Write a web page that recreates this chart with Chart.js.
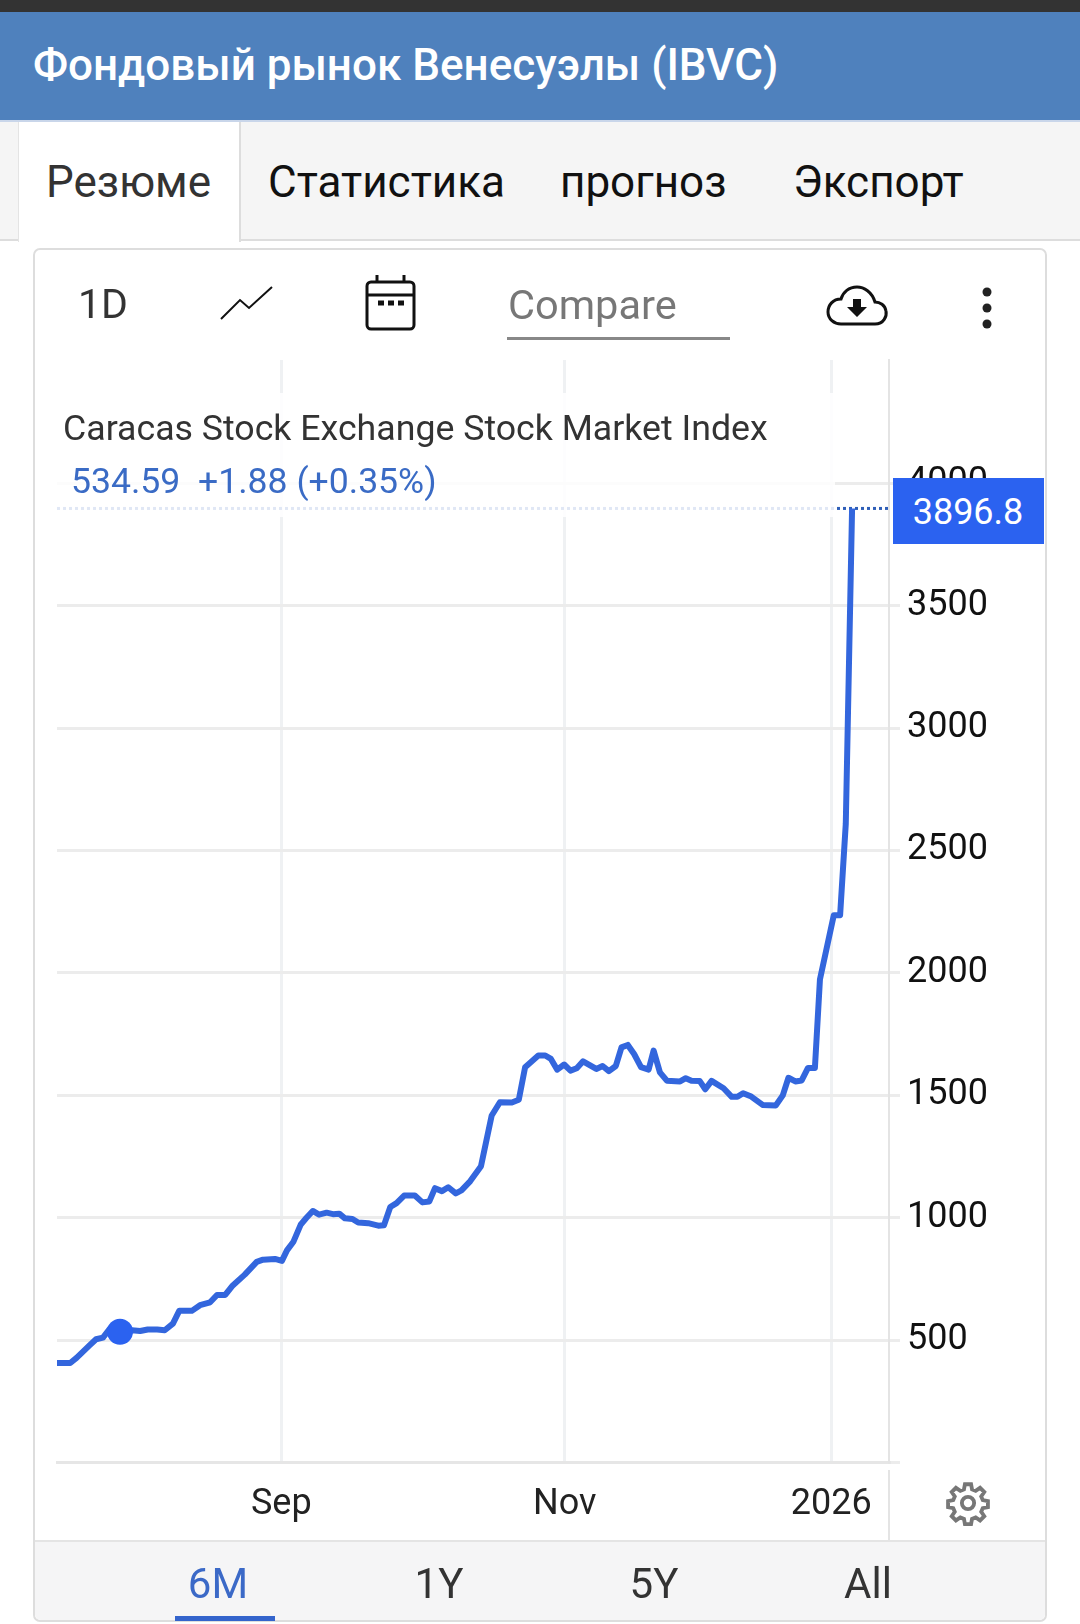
<!DOCTYPE html>
<html lang="ru">
<head>
<meta charset="utf-8">
<title>Фондовый рынок Венесуэлы (IBVC)</title>
<script src="https://cdn.jsdelivr.net/npm/chart.js@4/dist/chart.umd.min.js"></script>
<style>
  html, body { margin: 0; padding: 0; background: #fff; }
  #page { position: relative; width: 1080px; height: 1624px; overflow: hidden; font-family: Roboto, sans-serif; color: #222; }
  #page div, #page span, #page svg { position: absolute; }
  #page span { white-space: nowrap; line-height: 1; }
  canvas { position: absolute; left: 0; top: 0; }
  .tab { font-size: 44px; transform: translateY(-50%); top: 182px; color: #111; }
  .range { font-size: 42px; top: 1584px; transform: translate(-50%, -50%); color: #333; }
</style>
</head>
<body>
<div id="page">
  <div style="left:0;top:0;width:1080px;height:12px;background:#333"></div>
  <div style="left:0;top:12px;width:1080px;height:108px;background:#4f81bd"></div>
  <div style="left:0;top:120px;width:1080px;height:2px;background:#c9d6ea"></div>
  <span style="left:33px;top:65px;transform:translateY(-50%);font-size:44px;font-weight:500;color:#fff">Фондовый рынок Венесуэлы (IBVC)</span>

  <div style="left:0;top:122px;width:1080px;height:117px;background:#f5f5f5"></div>
  <div style="left:0;top:239px;width:1080px;height:2px;background:#ddd"></div>
  <div style="left:18px;top:122px;width:223px;height:120px;background:#fff;border-left:1px solid #e4e4e4;border-right:2px solid #ddd;box-sizing:border-box"></div>
  <span class="tab" style="left:46px;color:#333">Резюме</span>
  <span class="tab" style="left:268px">Статистика</span>
  <span class="tab" style="left:560px">прогноз</span>
  <span class="tab" style="left:793px">Экспорт</span>

  <div style="left:33px;top:248px;width:1014px;height:1374px;border:2px solid #ddd;border-radius:7px;box-sizing:border-box"></div>
  <div style="left:35px;top:1540px;width:1010px;height:80px;background:#f5f5f6;border-top:2px solid #e4e4e4;box-sizing:border-box;border-radius:0 0 6px 6px"></div>

  <canvas id="chartIbvc" width="1080" height="1624"></canvas>

  <!-- legend box hides the grid behind it -->
  <div style="left:57px;top:393px;width:778px;height:124px;background:rgba(255,255,255,.85)"></div>
  <span style="left:63px;top:429px;transform:translateY(-50%);font-size:35.7px;color:#333">Caracas Stock Exchange Stock Market Index</span>
  <span style="left:71px;top:482px;transform:translateY(-50%);font-size:35.6px;color:#3a6bc5">534.59&nbsp; +1.88 (+0.35%)</span>

  <div style="left:888px;top:1470px;width:2px;height:70px;background:#e4e4e4"></div>

  <div style="left:893px;top:478px;width:151px;height:66px;background:#2b62f0"></div>
  <span id="lastTag" style="left:968px;top:512px;transform:translate(-50%,-50%);font-size:36px;color:#fff"></span>

  <span style="left:78px;top:304px;transform:translateY(-50%);font-size:41px;color:#333">1D</span>
  <svg style="left:218px;top:284px" width="58" height="38" viewBox="218 284 58 38" fill="none" stroke="#111" stroke-width="2">
    <polyline points="221,319 240,300 249,308 272,287"/>
  </svg>
  <svg style="left:360px;top:270px" width="62" height="66" viewBox="360 270 62 66" fill="none" stroke="#111" stroke-width="3">
    <rect x="367" y="282" width="47" height="47" rx="4"/>
    <line x1="367" y1="295" x2="414" y2="295"/>
    <line x1="377" y1="275" x2="377" y2="282"/>
    <line x1="404" y1="275" x2="404" y2="282"/>
    <line x1="378" y1="303" x2="384" y2="303" stroke-width="5"/>
    <line x1="388" y1="303" x2="394" y2="303" stroke-width="5"/>
    <line x1="398" y1="303" x2="404" y2="303" stroke-width="5"/>
  </svg>
  <span style="left:508px;top:305px;transform:translateY(-50%);font-size:41.5px;color:#777">Compare</span>
  <div style="left:507px;top:337px;width:223px;height:3px;background:#888"></div>
  <svg style="left:821px;top:280px" width="72" height="50" viewBox="820 280 72 50">
    <path d="M840 324 H874 C883 324 886 316 885 311 C884 305 879 302 874 302 C871 292 863 287 856 287 C848 287 842 292 840 299 C832 299 827 305 827 312 C827 319 833 324 840 324 Z" fill="none" stroke="#111" stroke-width="3"/>
    <path d="M852 299 H860 V307 H866 L856 317 L846 307 H852 Z" fill="#111"/>
  </svg>
  <svg style="left:976px;top:285px" width="22" height="46" viewBox="975 285 22 46" fill="#222">
    <circle cx="986" cy="292" r="4.5"/><circle cx="986" cy="308" r="4.5"/><circle cx="986" cy="324" r="4.5"/>
  </svg>
  <svg style="left:945px;top:1480px" width="46" height="46" viewBox="0 0 24 24" fill="none" stroke="#777" stroke-width="2">
    <circle cx="12" cy="12" r="3.2"/>
    <path d="M10.4 2.2h3.2l.5 2.7 1.9.8 2.3-1.6 2.2 2.2-1.6 2.3.8 1.9 2.7.5v3.2l-2.7.5-.8 1.9 1.6 2.3-2.2 2.2-2.3-1.6-1.9.8-.5 2.7h-3.2l-.5-2.7-1.9-.8-2.3 1.6-2.2-2.2 1.6-2.3-.8-1.9-2.7-.5v-3.2l2.7-.5.8-1.9-1.6-2.3 2.2-2.2 2.3 1.6 1.9-.8z"/>
  </svg>

  <span class="range" style="left:218px;color:#3b69c7">6M</span>
  <span class="range" style="left:439px">1Y</span>
  <span class="range" style="left:654px">5Y</span>
  <span class="range" style="left:868px">All</span>
  <div style="left:175px;top:1616px;width:100px;height:5px;background:#3464cc"></div>
</div>

<script>
// trading sessions since the start of the 6M window
const sessions = [0, 2.1, 3.1, 5.2, 6.2, 7.3, 8.4, 10, 11.9, 13.2, 14.4, 15.9, 17.1, 18.4, 19.4, 21.4, 22.7, 24.3, 25.4, 26.7,
  27.9, 29.8, 31.7, 32.7, 34.6, 35.7, 36.5, 37.5, 38.7, 39.6, 40.6, 41.6, 42.8, 43.8, 44.8, 45.7, 46.9, 47.8, 49.4, 51,
  51.9, 52.9, 53.9, 55.1, 56.8, 58, 59.1, 60, 61.1, 62.1, 63.3, 64.2, 65.6, 67.3, 69, 70.3, 72.2, 73.3, 74.3, 76.4,
  77.5, 78.4, 79.4, 80.5, 81.5, 82.5, 83.5, 85.6, 86.6, 87.6, 88.7, 89.6, 90.6, 91.6, 92.7, 93.9, 94.7, 95.7, 96.8, 98.9,
  99.8, 100.7, 102, 102.9, 103.9, 105.8, 107.1, 108, 108.9, 110.2, 112, 114.1, 115.2, 116.1, 117.2, 118.2, 119.2, 120.3, 121.1, 123.3,
  124.3, 125.2, 126.2];
const ibvc = [407, 407, 428, 480, 504, 511, 548, 534.59, 541, 538, 544, 544, 541, 568, 620, 620, 643, 655, 685, 685,
  724, 768, 820, 829, 832, 824, 867, 901, 973, 1000, 1028, 1013, 1021, 1015, 1017, 998, 995, 981, 978, 968,
  970, 1044, 1060, 1091, 1091, 1063, 1067, 1121, 1109, 1125, 1100, 1112, 1150, 1211, 1418, 1472, 1471, 1482, 1615, 1663,
  1663, 1649, 1605, 1626, 1601, 1611, 1639, 1608, 1620, 1599, 1620, 1696, 1706, 1669, 1615, 1605, 1683, 1594, 1560, 1557,
  1570, 1560, 1559, 1525, 1559, 1529, 1494, 1494, 1509, 1495, 1461, 1459, 1500, 1572, 1557, 1561, 1612, 1612, 1974, 2236,
  2236, 2609, 3896.8];
const yTicks = [0, 500, 1000, 1500, 2000, 2500, 3000, 3500, 4000];
const monthTicks = [35.6, 80.6, 122.9];
const monthLabels = ['Sep', 'Nov', '2026'];
const hoverSession = 10;
const hoverValue = 534.59;
const lastValue = 3896.8;
const sessionMax = 132.06;
const valueMax = 4503;

const points = sessions.map((s, i) => ({ x: s, y: ibvc[i] }));
document.getElementById('lastTag').textContent = lastValue.toFixed(1);

new Chart(document.getElementById('chartIbvc'), {
  type: 'line',
  data: {
    datasets: [
      {
        label: 'hover',
        data: [{ x: hoverSession, y: hoverValue }],
        pointRadius: 13,
        pointBackgroundColor: '#2b62f0',
        pointBorderWidth: 0,
        showLine: false,
        order: 0
      },
      {
        label: 'IBVC',
        data: points,
        borderColor: '#3366dd',
        borderWidth: 6,
        borderJoinStyle: 'round',
        pointRadius: 0,
        tension: 0,
        order: 1
      },
      {
        label: 'last',
        data: [{ x: 0, y: lastValue }, { x: sessionMax, y: lastValue }],
        borderColor: '#2f5fb8',
        borderWidth: 3,
        borderDash: [3, 3],
        pointRadius: 0,
        order: 2
      }
    ]
  },
  options: {
    responsive: false,
    animation: false,
    layout: { padding: { left: 57, top: 360, right: 0, bottom: 0 } },
    plugins: { legend: { display: false }, tooltip: { enabled: false } },
    scales: {
      x: {
        type: 'linear',
        min: 0,
        max: sessionMax,
        afterBuildTicks: axis => { axis.ticks = monthTicks.map(v => ({ value: v })); },
        afterFit: axis => { axis.height = 161.3; },
        grid: { color: '#eff1f3', lineWidth: 3, drawTicks: false },
        border: { color: '#e6e6e6', width: 3 },
        ticks: {
          autoSkip: false,
          maxRotation: 0,
          padding: 21,
          color: '#222',
          font: { family: 'Roboto', size: 36 },
          callback: value => monthLabels[monthTicks.indexOf(value)]
        }
      },
      y: {
        position: 'right',
        min: 0,
        max: valueMax,
        afterBuildTicks: axis => { axis.ticks = yTicks.map(v => ({ value: v })); },
        afterFit: axis => { axis.width = 191; },
        grid: { color: '#ececec', lineWidth: 3, tickLength: 11 },
        border: { color: '#e4e4e4', width: 2 },
        ticks: {
          padding: 7,
          color: '#111',
          font: { family: 'Roboto', size: 36 },
          callback: value => (value === 0 ? '' : String(value))
        }
      }
    }
  }
});
</script>
</body>
</html>
